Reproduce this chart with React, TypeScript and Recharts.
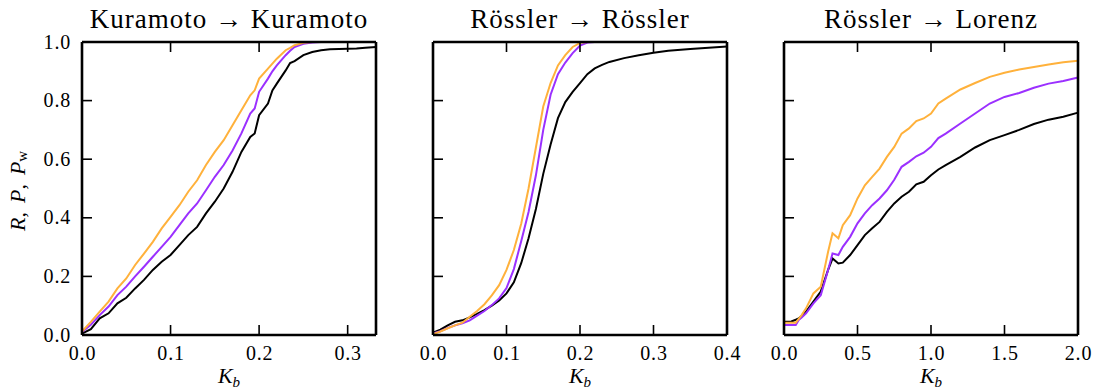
import React from 'react';
import { LineChart, Line, XAxis, YAxis } from 'recharts';

// ---------- Panel 1: Kuramoto -> Kuramoto ----------
const kuraK = [0, 0.01, 0.02, 0.03, 0.04, 0.05, 0.06, 0.07, 0.08, 0.09, 0.1, 0.11, 0.12, 0.13, 0.14, 0.15, 0.16, 0.17, 0.18, 0.19,
  0.195, 0.2, 0.21, 0.215, 0.22, 0.23, 0.235, 0.24,
  0.25, 0.26, 0.27, 0.28, 0.29, 0.3, 0.31, 0.32, 0.332];
const kuraR = [0.005, 0.02, 0.057, 0.074, 0.108, 0.127, 0.159, 0.188, 0.222, 0.25, 0.273, 0.307, 0.341, 0.369, 0.415, 0.455, 0.5, 0.557, 0.625, 0.676,
  0.688, 0.75, 0.79, 0.835, 0.858, 0.903, 0.928, 0.935,
  0.955, 0.966, 0.972, 0.975, 0.976, 0.977, 0.978, 0.98, 0.983];
const kuraP = [0.01, 0.035, 0.068, 0.097, 0.136, 0.165, 0.2, 0.233, 0.267, 0.301, 0.335, 0.375, 0.415, 0.449, 0.494, 0.54, 0.58, 0.63, 0.688, 0.756,
  0.773, 0.83, 0.875, 0.9, 0.92, 0.955, 0.97, 0.983,
  0.994, 0.998, 1, 1, 1, 1, 1, 1, 1];
const kuraPw = [0.012, 0.045, 0.08, 0.114, 0.159, 0.193, 0.239, 0.278, 0.318, 0.364, 0.403, 0.443, 0.489, 0.528, 0.58, 0.625, 0.665, 0.716, 0.767, 0.818,
  0.835, 0.875, 0.909, 0.926, 0.943, 0.972, 0.98, 0.989,
  0.997, 1, 1, 1, 1, 1, 1, 1, 1];

// ---------- Panel 2: Rössler -> Rössler ----------
const rossK = [0, 0.01, 0.02, 0.03, 0.04, 0.05, 0.06, 0.07, 0.08, 0.09, 0.1, 0.11, 0.12, 0.13, 0.14, 0.15, 0.16, 0.17, 0.18, 0.19,
  0.2, 0.21, 0.22, 0.23, 0.24, 0.26, 0.28, 0.3, 0.32, 0.35, 0.4];
const rossR = [0.008, 0.018, 0.033, 0.045, 0.05, 0.06, 0.072, 0.085, 0.1, 0.118, 0.142, 0.18, 0.245, 0.33, 0.43, 0.55, 0.65, 0.74, 0.795, 0.83,
  0.86, 0.89, 0.91, 0.922, 0.932, 0.945, 0.955, 0.963, 0.97, 0.976, 0.985];
const rossP = [0.005, 0.013, 0.024, 0.033, 0.04, 0.05, 0.066, 0.082, 0.102, 0.125, 0.16, 0.225, 0.32, 0.42, 0.545, 0.7, 0.82, 0.89, 0.93, 0.962,
  0.988, 0.998, 1, 1, 1, 1, 1, 1, 1, 1, 1];
const rossPw = [0.003, 0.012, 0.023, 0.033, 0.042, 0.062, 0.082, 0.105, 0.135, 0.17, 0.222, 0.29, 0.38, 0.5, 0.64, 0.78, 0.86, 0.92, 0.955, 0.983,
  0.997, 1, 1, 1, 1, 1, 1, 1, 1, 1, 1];

// ---------- Panel 3: Rössler -> Lorenz ----------
const lorK = [0, 0.05, 0.08, 0.1, 0.12, 0.15, 0.2, 0.25, 0.3, 0.33, 0.37, 0.4, 0.45, 0.5, 0.55, 0.6, 0.65, 0.7, 0.75, 0.8, 0.85, 0.9, 0.95, 1.0,
  1.05, 1.1, 1.2, 1.3, 1.4, 1.5, 1.6, 1.7, 1.8, 1.9, 2.0];
const lorR = [0.045, 0.046, 0.052, 0.057, 0.065, 0.08, 0.114, 0.148, 0.222, 0.261, 0.244, 0.247, 0.273, 0.307, 0.341, 0.364, 0.386, 0.42, 0.449, 0.472, 0.489, 0.514, 0.523, 0.545,
  0.565, 0.58, 0.608, 0.64, 0.665, 0.682, 0.7, 0.72, 0.735, 0.745, 0.759];
const lorP = [0.034, 0.034, 0.034, 0.051, 0.06, 0.074, 0.108, 0.136, 0.222, 0.278, 0.273, 0.301, 0.335, 0.381, 0.415, 0.443, 0.466, 0.494, 0.53, 0.574, 0.591, 0.61, 0.622, 0.642,
  0.672, 0.6875, 0.722, 0.756, 0.79, 0.8125, 0.826, 0.844, 0.858, 0.867, 0.879];
const lorPw = [0.042, 0.042, 0.042, 0.055, 0.068, 0.091, 0.142, 0.165, 0.284, 0.347, 0.33, 0.375, 0.409, 0.466, 0.511, 0.54, 0.568, 0.608, 0.642, 0.6875, 0.705, 0.73, 0.739, 0.756,
  0.79, 0.807, 0.838, 0.86, 0.881, 0.895, 0.906, 0.915, 0.923, 0.931, 0.936];

// ---------- Ticks and titles ----------
const xTicks1 = [0, 0.1, 0.2, 0.3];
const xTicks2 = [0, 0.1, 0.2, 0.3, 0.4];
const xTicks3 = [0, 0.5, 1.0, 1.5, 2.0];
const yTicks = [0, 0.2, 0.4, 0.6, 0.8, 1.0];
const titles = ['Kuramoto \u2192 Kuramoto', 'R\u00f6ssler \u2192 R\u00f6ssler', 'R\u00f6ssler \u2192 Lorenz'];

const COL_R = '#000000';
const COL_P = '#9b30ff';
const COL_PW = '#ffb13b';

const build = (k: number[], r: number[], p: number[], pw: number[]) =>
  k.map((kv, i) => ({ k: kv, R: r[i], P: p[i], Pw: pw[i] }));

const FONT = '"Liberation Serif", "DejaVu Serif", serif';
const TICK_LEN = 10;
const TICK_W = 1.6;
const FRAME_W = 2.6;

const PW = 294;
const PH = 293;
const TOP = 42;
const LS = 50;
const RS = 24;
const H = 392;

const bottomTick = (props: any) => {
  const { x, y, payload } = props;
  return (
    <g>
      <line x1={x} y1={y} x2={x} y2={y - TICK_LEN} stroke="#000" strokeWidth={TICK_W} />
      <text x={x + 0.5} y={y + 25} textAnchor="middle" fontFamily={FONT} fontSize={20} letterSpacing={0.8} fill="#000">
        {Number(payload.value).toFixed(1)}
      </text>
    </g>
  );
};
const topTick = (props: any) => {
  const { x, y } = props;
  return <line x1={x} y1={y} x2={x} y2={y + TICK_LEN} stroke="#000" strokeWidth={TICK_W} />;
};
const leftTickLabeled = (props: any) => {
  const { x, y, payload } = props;
  return (
    <g>
      <line x1={x} y1={y} x2={x + TICK_LEN} y2={y} stroke="#000" strokeWidth={TICK_W} />
      <text x={x - 11} y={y + 6.5} textAnchor="end" fontFamily={FONT} fontSize={20} letterSpacing={0.8} fill="#000">
        {Number(payload.value).toFixed(1)}
      </text>
    </g>
  );
};
const leftTickPlain = (props: any) => {
  const { x, y } = props;
  return <line x1={x} y1={y} x2={x + TICK_LEN} y2={y} stroke="#000" strokeWidth={TICK_W} />;
};
const rightTick = (props: any) => {
  const { x, y } = props;
  return <line x1={x} y1={y} x2={x - TICK_LEN} y2={y} stroke="#000" strokeWidth={TICK_W} />;
};

type PanelProps = {
  left: number;
  data: any[];
  xMax: number;
  xTicks: number[];
  yLabels: boolean;
};

function Panel({ left, data, xMax, xTicks, yLabels }: PanelProps) {
  const axisLine = { stroke: '#000', strokeWidth: FRAME_W };
  return (
    <div style={{ position: 'absolute', left: left - LS, top: 0 }}>
      <LineChart width={LS + PW + RS} height={H} data={data} margin={{ top: TOP - 1, right: RS - 1, bottom: 0, left: 0 }}>
        <XAxis xAxisId="b" dataKey="k" type="number" domain={[0, xMax]} ticks={xTicks} interval={0}
          orientation="bottom" height={H - TOP - PH} tickSize={0} tickMargin={0} tickLine={false}
          axisLine={axisLine} tick={bottomTick} />
        <XAxis xAxisId="t" dataKey="k" type="number" domain={[0, xMax]} ticks={xTicks} interval={0}
          orientation="top" height={1} tickSize={0} tickMargin={0} tickLine={false}
          axisLine={axisLine} tick={topTick} />
        <YAxis yAxisId="l" type="number" domain={[0, 1]} ticks={yTicks} interval={0}
          orientation="left" width={LS} tickSize={0} tickMargin={0} tickLine={false}
          axisLine={axisLine} tick={yLabels ? leftTickLabeled : leftTickPlain} />
        <YAxis yAxisId="r" type="number" domain={[0, 1]} ticks={yTicks} interval={0}
          orientation="right" width={1} tickSize={0} tickMargin={0} tickLine={false}
          axisLine={axisLine} tick={rightTick} />
        <Line xAxisId="b" yAxisId="l" type="linear" dataKey="R" stroke={COL_R} strokeWidth={2} dot={false} isAnimationActive={false} />
        <Line xAxisId="b" yAxisId="l" type="linear" dataKey="P" stroke={COL_P} strokeWidth={2} dot={false} isAnimationActive={false} />
        <Line xAxisId="b" yAxisId="l" type="linear" dataKey="Pw" stroke={COL_PW} strokeWidth={2} dot={false} isAnimationActive={false} />
      </LineChart>
    </div>
  );
}

const panelLefts = [82, 433, 784];

export default function App() {
  const d1 = build(kuraK, kuraR, kuraP, kuraPw);
  const d2 = build(rossK, rossR, rossP, rossPw);
  const d3 = build(lorK, lorR, lorP, lorPw);
  return (
    <div style={{ position: 'absolute', left: 0, top: 0, width: 1094, height: H, background: '#fff', overflow: 'hidden' }}>
      <Panel left={panelLefts[0]} data={d1} xMax={0.332} xTicks={xTicks1} yLabels={true} />
      <Panel left={panelLefts[1]} data={d2} xMax={0.4} xTicks={xTicks2} yLabels={false} />
      <Panel left={panelLefts[2]} data={d3} xMax={2.0} xTicks={xTicks3} yLabels={false} />
      <svg width={1094} height={H} style={{ position: 'absolute', left: 0, top: 0, pointerEvents: 'none' }}>
        {titles.map((t, i) => (
          <text key={t} x={panelLefts[i] + PW / 2} y={28} textAnchor="middle" fontFamily={FONT} fontSize={27} letterSpacing={1} fill="#000">
            {t}
          </text>
        ))}
        {panelLefts.map((pl, i) => (
          <text key={'kb' + i} x={pl + PW / 2} y={383} textAnchor="middle" fontFamily={FONT} fontStyle="italic" fontSize={22} fill="#000">
            K<tspan fontSize={15} dy={4}>b</tspan>
          </text>
        ))}
        <text transform="rotate(-90)" x={-231} y={25} textAnchor="start" fontFamily={FONT} fontStyle="italic" fontSize={22} fill="#000">
          R<tspan fontStyle="normal">,</tspan><tspan dx={9}>P</tspan><tspan fontStyle="normal">,</tspan><tspan dx={9}>P</tspan><tspan fontStyle="normal" fontSize={15} dy={2}>w</tspan>
        </text>
      </svg>
    </div>
  );
}
